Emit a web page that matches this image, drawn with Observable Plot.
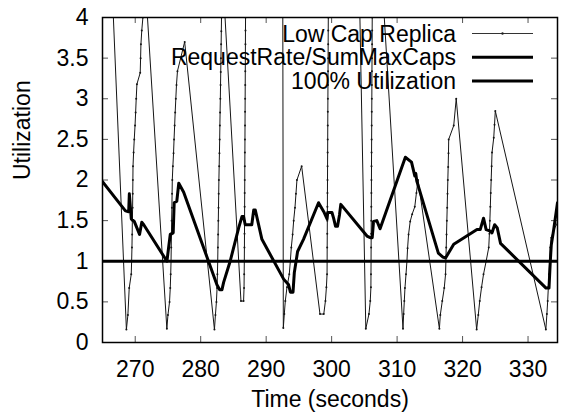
<!DOCTYPE html>
<html>
<head>
<meta charset="utf-8">
<script src="https://cdn.jsdelivr.net/npm/d3@7"></script>
<script src="https://cdn.jsdelivr.net/npm/@observablehq/plot@0.6"></script>
<style>
  body { margin: 0; background: #fff; }
  #chart svg { display: block; }
</style>
</head>
<body>
<div id="chart"></div>
<script>
// ---- data (time in seconds, utilization) ----
const lowCapReplica = [
  [265.0, 7.2], [268.65, 0.16],
  [268.88, 0.34], [269.08, 0.67], [269.39, 0.84], [269.45, 1.0], [269.5, 1.17], [269.53, 1.33], [269.56, 1.5], [269.6, 1.66],
  [269.62, 1.83], [269.64, 2.0], [269.66, 2.17], [269.75, 2.34], [269.85, 2.5], [269.97, 2.67], [270.06, 2.83], [270.15, 3.0],
  [270.26, 3.18], [270.76, 3.32], [270.82, 3.5], [270.87, 3.67], [271.0, 3.84], [271.17, 4.0], [271.35, 4.25], [271.5, 4.48],
  [274.83, 0.17],
  [275.0, 0.34], [275.24, 0.5], [275.35, 0.67], [275.42, 0.84], [275.47, 1.0], [275.5, 1.17], [275.53, 1.33], [275.56, 1.5],
  [275.6, 1.66], [275.63, 1.83], [275.66, 2.0], [275.75, 2.17], [275.85, 2.33], [275.93, 2.5], [276.02, 2.67], [276.1, 2.83],
  [276.2, 3.0], [276.3, 3.17], [276.45, 3.34], [277.55, 3.7],
  [282.1, 0.16],
  [282.25, 0.34], [282.4, 0.5], [282.5, 0.67], [282.55, 0.84], [282.6, 1.0], [282.63, 1.17], [282.66, 1.33], [282.69, 1.5],
  [282.72, 1.66], [282.75, 1.83], [282.78, 2.0], [282.82, 2.17], [282.86, 2.33], [282.9, 2.5], [282.93, 2.67], [282.96, 2.83],
  [283.0, 3.0], [283.03, 3.17], [283.06, 3.33], [283.09, 3.5], [283.12, 3.67], [283.15, 3.83], [283.18, 4.0], [283.3, 4.6],
  [286.15, 0.51], [286.55, 0.51],
  [286.62, 0.67], [286.64, 0.84], [286.66, 1.0], [286.68, 1.17], [286.69, 1.34], [286.7, 1.5], [286.71, 1.67], [286.72, 1.84],
  [286.73, 2.0], [286.74, 2.17], [286.75, 2.34], [286.76, 2.5], [286.77, 2.67], [286.78, 2.84], [286.79, 3.0], [286.8, 3.17],
  [286.81, 3.34], [286.82, 3.5], [286.83, 3.67], [286.84, 3.84], [286.85, 4.0], [286.88, 4.3],
  [292.5, 6.0], [292.62, 0.18],
  [292.77, 0.35], [292.92, 0.51], [293.18, 0.68], [293.53, 0.84], [293.69, 1.0], [293.84, 1.17], [294.04, 1.33], [294.2, 1.5],
  [294.4, 1.66], [294.55, 1.83], [294.7, 2.0], [295.42, 2.17],
  [298.22, 0.35], [298.8, 0.35],
  [299.05, 0.51], [299.2, 0.68], [299.3, 0.84], [299.31, 1.0], [299.32, 1.17], [299.33, 1.34], [299.34, 1.5], [299.35, 1.67],
  [299.36, 1.84], [299.37, 2.0], [299.38, 2.17], [299.39, 2.34], [299.4, 2.5], [299.41, 2.67], [299.42, 2.84], [299.43, 3.0],
  [299.44, 3.17], [299.45, 3.34], [299.46, 3.5], [299.47, 3.67], [299.48, 3.84], [299.49, 4.0], [299.52, 4.3],
  [303.85, 6.0], [305.22, 0.17],
  [305.7, 0.35], [305.9, 0.51], [306.0, 0.68], [306.01, 0.84], [306.02, 1.0], [306.03, 1.17], [306.04, 1.34], [306.05, 1.5],
  [306.06, 1.67], [306.07, 1.84], [306.08, 2.0], [306.09, 2.17], [306.1, 2.34], [306.11, 2.5], [306.12, 2.67], [306.13, 2.84],
  [306.14, 3.0], [306.15, 3.17], [306.16, 3.34], [306.17, 3.5], [306.18, 3.67], [306.19, 3.84], [306.2, 4.0], [306.55, 6.0],
  [310.9, 0.17],
  [311.0, 0.35], [311.1, 0.51], [311.2, 0.67], [311.36, 0.84], [311.5, 1.0], [311.6, 1.16], [311.75, 1.33], [312.0, 1.49],
  [312.3, 1.58], [312.7, 1.67], [312.95, 1.84], [313.2, 2.0],
  [316.46, 0.17],
  [316.6, 0.34], [316.9, 0.51], [317.2, 0.67], [317.4, 0.84], [317.45, 1.0], [317.5, 1.17], [317.55, 1.33], [317.6, 1.5],
  [317.65, 1.66], [317.7, 1.83], [317.75, 2.0], [317.8, 2.16], [317.85, 2.33], [317.88, 2.5], [318.65, 2.67], [319.03, 3.0],
  [322.15, 0.16],
  [322.4, 0.34], [322.62, 0.51], [322.9, 0.68], [323.2, 0.84], [323.6, 1.0], [324.0, 1.17], [324.1, 1.34], [324.17, 1.5],
  [324.24, 1.67], [324.3, 1.84], [324.37, 2.0], [324.44, 2.17], [324.5, 2.34], [324.76, 2.52], [324.88, 2.68], [325.0, 2.85],
  [332.72, 0.16],
  [332.88, 0.35], [333.0, 0.51], [333.1, 0.68], [333.2, 0.84], [333.3, 1.0], [333.4, 1.17], [333.55, 1.29], [334.0, 1.4], [334.5, 1.47]
];

const requestRateOverSumMaxCaps = [
  [265.0, 1.98], [268.5, 1.62], [269.0, 1.61], [269.1, 1.83], [269.4, 1.52], [269.85, 1.49], [270.66, 1.33], [271.0, 1.48],
  [271.3, 1.45], [274.84, 1.0], [275.35, 1.33], [275.8, 1.35], [275.95, 1.72], [276.35, 1.74], [276.65, 1.96], [277.4, 1.85],
  [282.48, 0.71], [282.9, 0.65], [283.25, 0.65], [283.5, 0.74], [284.5, 1.0], [285.8, 1.41], [286.3, 1.55], [286.55, 1.55],
  [286.8, 1.45], [287.8, 1.45], [288.1, 1.63], [288.34, 1.63], [289.35, 1.27], [292.67, 0.78], [293.43, 0.71], [293.7, 0.62],
  [294.1, 0.62], [294.3, 0.86], [294.8, 1.12], [295.7, 1.27], [298.0, 1.72], [298.8, 1.61], [299.3, 1.52], [299.4, 1.6],
  [300.05, 1.6], [300.3, 1.53], [300.6, 1.43], [300.9, 1.43], [301.2, 1.57], [301.4, 1.7], [305.4, 1.31], [305.9, 1.29],
  [306.2, 1.29], [306.4, 1.49], [306.9, 1.5], [307.4, 1.4], [311.26, 2.28], [312.2, 2.22], [312.7, 2.05], [312.85, 2.08],
  [313.0, 1.99], [316.3, 1.1], [317.0, 1.05], [317.4, 1.04], [318.65, 1.21], [322.2, 1.39], [322.7, 1.39], [323.2, 1.53],
  [323.6, 1.39], [324.25, 1.37], [324.5, 1.35], [324.9, 1.45], [325.3, 1.41], [325.8, 1.22], [332.75, 0.67], [333.2, 0.67],
  [333.4, 1.0], [333.55, 1.2], [333.9, 1.38], [334.5, 1.72]
];

const fullUtilization = [1];
const xTicks = [270, 280, 290, 300, 310, 320, 330];
const yTicks = [0, 0.5, 1, 1.5, 2, 2.5, 3, 3.5, 4];
const seriesNames = ["Low Cap Replica", "RequestRate/SumMaxCaps", "100% Utilization"];
const xLabel = "Time (seconds)";
const yLabel = "Utilization";

// ---- chart ----
const FONT = "'Liberation Sans', Arial, Helvetica, sans-serif";
const toRows = (arr) => arr.map(([t, u]) => ({t, u}));
const low = toRows(lowCapReplica);
const req = toRows(requestRateOverSumMaxCaps);

const W = 561, H = 413, ML = 102, MR = 4, MT = 17, MB = 71;
const FRAME_W = W - ML - MR, FRAME_H = H - MT - MB;
const TICK = 6;

const chart = Plot.plot({
  width: W,
  height: H,
  marginLeft: ML,
  marginRight: MR,
  marginTop: MT,
  marginBottom: MB,
  style: {fontFamily: FONT, fontSize: "23px", color: "#000", background: "#fff"},
  x: {domain: [265, 334.5]},
  y: {domain: [0, 4]},
  marks: [
    // inward tick marks on all four sides (short rules inset from the frame)
    Plot.ruleX(xTicks, {insetTop: FRAME_H - TICK, stroke: "#555", strokeWidth: 1}),
    Plot.ruleX(xTicks, {insetBottom: FRAME_H - TICK, stroke: "#555", strokeWidth: 1}),
    Plot.ruleY(yTicks, {insetRight: FRAME_W - TICK, stroke: "#555", strokeWidth: 1}),
    Plot.ruleY(yTicks, {insetLeft: FRAME_W - TICK, stroke: "#555", strokeWidth: 1}),
    Plot.line(low, {x: "t", y: "u", stroke: "#151515", strokeWidth: 1, clip: true}),
    Plot.dot(low, {x: "t", y: "u", r: 1, fill: "#151515", stroke: null, clip: true}),
    Plot.line(req, {x: "t", y: "u", stroke: "#000", strokeWidth: 3, clip: true}),
    Plot.ruleY(fullUtilization, {stroke: "#000", strokeWidth: 3}),
    // tick labels
    Plot.axisX({anchor: "bottom", ticks: xTicks, tickSize: 0, tickPadding: 18, tickFormat: d => String(d), label: null}),
    Plot.axisY({anchor: "left", ticks: yTicks, tickSize: 0, tickPadding: 14, tickFormat: d => String(d), label: null}),
    Plot.frame({stroke: "#000", strokeWidth: 1.5}),
    Plot.text([xLabel], {text: d => d, frameAnchor: "bottom", dy: 57, lineAnchor: "middle", fontSize: 23, fill: "#000"}),
    Plot.text([yLabel], {text: d => d, frameAnchor: "left", rotate: -90, dx: -80, lineAnchor: "middle", fontSize: 23, fill: "#000"})
  ]
});

// ---- key (top right, inside the plot area) ----
const svg = d3.select(chart);
const key = svg.append("g").attr("font-family", FONT).attr("font-size", 23).attr("fill", "#000");
const keyStyles = [
  {stroke: "#333", width: 1, dot: true},
  {stroke: "#000", width: 3, dot: false},
  {stroke: "#000", width: 3, dot: false}
];
const keyRowY = [33.5, 57.3, 81];
seriesNames.forEach((name, i) => {
  const y = keyRowY[i];
  key.append("text").attr("x", 456).attr("y", y).attr("dy", "0.35em").attr("text-anchor", "end").text(name);
  key.append("line").attr("x1", 472).attr("x2", 533).attr("y1", y).attr("y2", y)
    .attr("stroke", keyStyles[i].stroke).attr("stroke-width", keyStyles[i].width);
  if (keyStyles[i].dot) key.append("circle").attr("cx", 502.5).attr("cy", y).attr("r", 1.2).attr("fill", "#222");
});

document.getElementById("chart").appendChild(chart);
</script>
</body>
</html>
